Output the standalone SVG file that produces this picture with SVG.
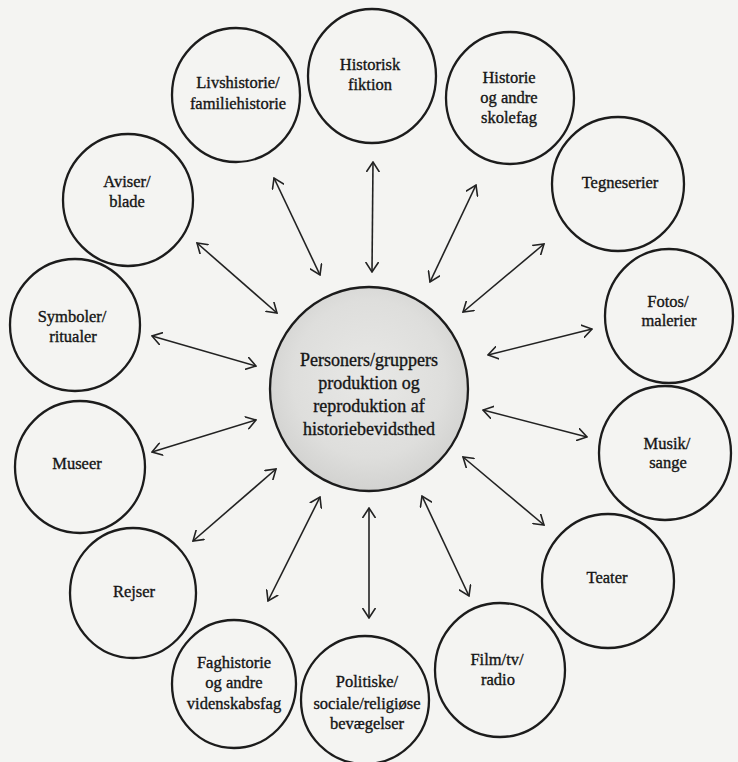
<svg xmlns="http://www.w3.org/2000/svg" width="738" height="762" viewBox="0 0 738 762">
  <style>
    .node ellipse { fill: none; stroke: #1c1c1c; stroke-width: 2.3; }
    .node text { font-family: "Liberation Serif", "DejaVu Serif", serif; font-size: 16.5px; fill: #151515; stroke: #151515; stroke-width: 0.35; text-anchor: middle; }
    #center text { font-size: 18px; }
    .conn line { stroke: #222; stroke-width: 1.6; fill: none; marker-start: url(#head); marker-end: url(#head); }
  </style>
  <defs>
    <radialGradient id="grey" cx="50%" cy="45%" r="55%">
      <stop offset="0" stop-color="#e8e8e6"/>
      <stop offset="0.7" stop-color="#dededc"/>
      <stop offset="1" stop-color="#d2d2d0"/>
    </radialGradient>
    <marker id="head" viewBox="0 0 11 14" refX="10" refY="7" markerWidth="11" markerHeight="14" markerUnits="userSpaceOnUse" orient="auto-start-reverse">
      <path d="M0,0.5 L10,7 L0,13.5" fill="none" stroke="#222" stroke-width="1.6"/>
    </marker>
  </defs>
  <rect width="738" height="762" fill="#f4f4f2"/>

  <g class="conn" id="connectors">
    <line x1="320" y1="275" x2="274" y2="178"/>
    <line x1="372" y1="272" x2="373" y2="162"/>
    <line x1="430" y1="282" x2="476" y2="185"/>
    <line x1="463" y1="312" x2="544" y2="244"/>
    <line x1="277" y1="313" x2="197" y2="243"/>
    <line x1="256" y1="366" x2="152" y2="336"/>
    <line x1="256" y1="420" x2="152" y2="452"/>
    <line x1="276" y1="469" x2="193" y2="541"/>
    <line x1="320" y1="497" x2="268" y2="601"/>
    <line x1="369" y1="508" x2="369" y2="618"/>
    <line x1="422" y1="496" x2="469" y2="596"/>
    <line x1="463" y1="457" x2="544" y2="525"/>
    <line x1="483" y1="410" x2="587" y2="437"/>
    <line x1="488" y1="355" x2="592" y2="329"/>
  </g>

  <g class="node" id="center">
    <ellipse cx="369" cy="389" rx="99" ry="102" style="fill:url(#grey)"/>
    <text x="369" y="366">Personers/gruppers</text>
    <text x="369" y="389">produktion og</text>
    <text x="369" y="412">reproduktion af</text>
    <text x="369" y="435">historiebevidsthed</text>
  </g>

  <g class="node" id="livshistorie">
    <ellipse cx="236" cy="95" rx="64" ry="67"/>
    <text x="238" y="88">Livshistorie/</text>
    <text x="238" y="109">familiehistorie</text>
  </g>
  <g class="node" id="historisk-fiktion">
    <ellipse cx="372" cy="76" rx="64" ry="67"/>
    <text x="370" y="70">Historisk</text>
    <text x="370" y="90">fiktion</text>
  </g>
  <g class="node" id="historie-skolefag">
    <ellipse cx="510" cy="98" rx="64" ry="66"/>
    <text x="509" y="83">Historie</text>
    <text x="509" y="103">og andre</text>
    <text x="509" y="123">skolefag</text>
  </g>
  <g class="node" id="aviser">
    <ellipse cx="128" cy="200" rx="65" ry="66"/>
    <text x="127" y="187">Aviser/</text>
    <text x="127" y="207">blade</text>
  </g>
  <g class="node" id="tegneserier">
    <ellipse cx="618" cy="184" rx="66" ry="67"/>
    <text x="620" y="188">Tegneserier</text>
  </g>
  <g class="node" id="symboler">
    <ellipse cx="75" cy="325" rx="65" ry="66"/>
    <text x="72" y="322">Symboler/</text>
    <text x="73" y="342">ritualer</text>
  </g>
  <g class="node" id="fotos">
    <ellipse cx="669" cy="316" rx="64" ry="67"/>
    <text x="668" y="307">Fotos/</text>
    <text x="669" y="326">malerier</text>
  </g>
  <g class="node" id="museer">
    <ellipse cx="80" cy="467" rx="65" ry="66"/>
    <text x="77" y="469">Museer</text>
  </g>
  <g class="node" id="musik">
    <ellipse cx="665" cy="453" rx="66" ry="67"/>
    <text x="667" y="449">Musik/</text>
    <text x="668" y="468">sange</text>
  </g>
  <g class="node" id="rejser">
    <ellipse cx="133" cy="593" rx="63" ry="65"/>
    <text x="134" y="597">Rejser</text>
  </g>
  <g class="node" id="teater">
    <ellipse cx="608" cy="581" rx="66" ry="67"/>
    <text x="607" y="583">Teater</text>
  </g>
  <g class="node" id="faghistorie">
    <ellipse cx="234" cy="684" rx="62" ry="64"/>
    <text x="234" y="668">Faghistorie</text>
    <text x="234" y="688">og andre</text>
    <text x="234" y="709">videnskabsfag</text>
  </g>
  <g class="node" id="politiske">
    <ellipse cx="365" cy="700" rx="64" ry="64"/>
    <text x="367" y="687">Politiske/</text>
    <text x="367" y="709">sociale/religiøse</text>
    <text x="367" y="729">bevægelser</text>
  </g>
  <g class="node" id="film">
    <ellipse cx="500" cy="670" rx="65" ry="67"/>
    <text x="497" y="665">Film/tv/</text>
    <text x="498" y="685">radio</text>
  </g>
</svg>
